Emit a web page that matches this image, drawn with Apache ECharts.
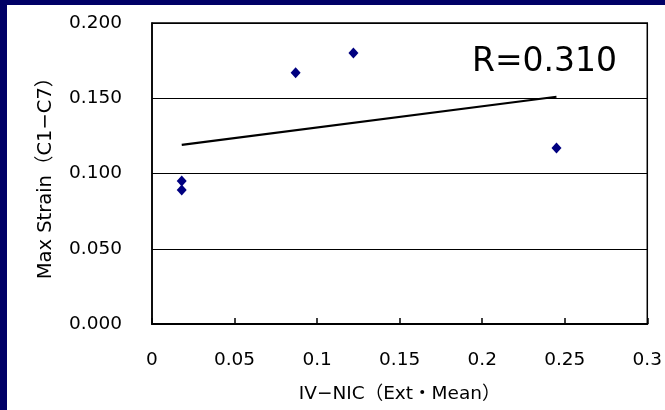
<!DOCTYPE html>
<html>
<head>
<meta charset="utf-8">
<script src="https://cdn.jsdelivr.net/npm/echarts@6/dist/echarts.min.js"></script>
<style>
html,body{margin:0;padding:0;background:#000066;}
#chart{width:665px;height:410px;}
</style>
</head>
<body>
<div id="chart"></div>
<script>
// Data
var pointsX = [0.018, 0.018, 0.087, 0.122, 0.245];
var pointsY = [0.095, 0.089, 0.167, 0.180, 0.117];
var trendX = [0.018, 0.245];
var trendY = [0.119, 0.151];
var xTicks = [0, 0.05, 0.1, 0.15, 0.2, 0.25, 0.3];
var yTicks = [0, 0.05, 0.1, 0.15, 0.2];
var xTitle = 'IV−NIC（Ext・Mean）';
var yTitle = 'Max Strain（C1−C7）';
var rLabel = 'R=0.310';

var scatterData = pointsX.map(function (x, i) { return [x, pointsY[i]]; });
var trendData = trendX.map(function (x, i) { return [x, trendY[i]]; });

var chart = echarts.init(document.getElementById('chart'), null, {renderer: 'canvas'});
chart.setOption({
  backgroundColor: '#000066',
  animation: false,
  graphic: [
    {type: 'rect', left: 7, top: 5, z: -10, shape: {width: 658, height: 405}, style: {fill: '#ffffff'}},
    {type: 'text', left: 472, top: 46, z: 10,
     style: {text: rLabel, font: '33px "DejaVu Sans"', fill: '#000'}}
  ],
  grid: {left: 152, right: 15, top: 23, bottom: 86, show: true, borderColor: '#000', borderWidth: 1.5, backgroundColor: '#fff'},
  xAxis: {
    type: 'value', min: xTicks[0], max: xTicks[xTicks.length - 1], interval: 0.05,
    name: xTitle, nameLocation: 'middle', nameGap: 61,
    nameTextStyle: {fontFamily: '"DejaVu Sans", "Noto Sans CJK JP"', fontSize: 18.5, color: '#000'},
    axisLine: {show: true, onZero: false, lineStyle: {color: '#000', width: 2}},
    axisTick: {show: true, inside: true, length: 6, lineStyle: {color: '#000', width: 1.5}},
    axisLabel: {margin: 27, fontFamily: '"DejaVu Sans"', fontSize: 18.5, color: '#000',
      formatter: function (v) { return String(+v.toFixed(2)); }},
    splitLine: {show: false}
  },
  yAxis: {
    type: 'value', min: yTicks[0], max: yTicks[yTicks.length - 1], interval: 0.05,
    name: yTitle, nameLocation: 'middle', nameGap: 96, nameRotate: 90,
    nameTextStyle: {fontFamily: '"DejaVu Sans", "Noto Sans CJK JP"', fontSize: 19.5, color: '#000'},
    axisLine: {show: true, lineStyle: {color: '#000', width: 1.5}},
    axisTick: {show: false},
    axisLabel: {margin: 30, fontFamily: '"DejaVu Sans"', fontSize: 18.5, color: '#000',
      formatter: function (v) { return v.toFixed(3); }},
    splitLine: {show: true, lineStyle: {color: '#000', width: 1.2}}
  },
  series: [
    {type: 'line', data: trendData, showSymbol: false, symbol: 'none',
     lineStyle: {color: '#000', width: 2.2}, z: 3},
    {type: 'scatter', data: scatterData, symbol: 'diamond', symbolSize: [10, 11],
     itemStyle: {color: '#000080', opacity: 1}, z: 4}
  ]
});
</script>
</body>
</html>
